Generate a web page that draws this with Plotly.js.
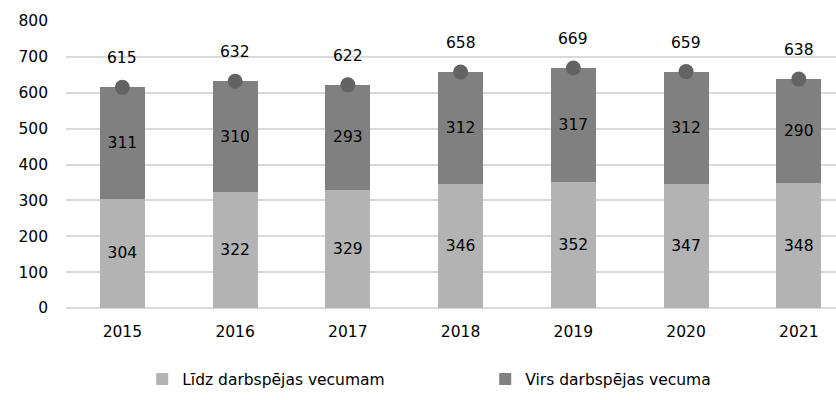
<!DOCTYPE html>
<html>
<head>
<meta charset="utf-8">
<script src="https://cdn.plot.ly/plotly-3.0.1.min.js"></script>
<style>html,body{margin:0;padding:0;background:#fff;}#chart{width:836px;height:400px;}</style>
</head>
<body>
<div id="chart"></div>
<script>
const years = ['2015', '2016', '2017', '2018', '2019', '2020', '2021'];
const belowAge = [304, 322, 329, 346, 352, 347, 348];
const aboveAge = [311, 310, 293, 312, 317, 312, 290];
const totals = [615, 632, 622, 658, 669, 659, 638];
const seriesNames = ['Līdz darbspējas vecumam', 'Virs darbspējas vecuma'];

const FONT = 'DejaVu Sans, Verdana, sans-serif';

const traces = [
  {
    type: 'bar', name: seriesNames[0], x: years, y: belowAge,
    marker: {color: '#b3b3b3'}, width: 0.4,
    text: belowAge.map(String), textposition: 'inside', insidetextanchor: 'middle',
    textangle: 0, constraintext: 'none',
    textfont: {family: FONT, size: 15.5, color: '#000'}, hoverinfo: 'y'
  },
  {
    type: 'bar', name: seriesNames[1], x: years, y: aboveAge,
    marker: {color: '#808080'}, width: 0.4,
    text: aboveAge.map(String), textposition: 'inside', insidetextanchor: 'middle',
    textangle: 0, constraintext: 'none',
    textfont: {family: FONT, size: 15.5, color: '#000'}, hoverinfo: 'y'
  },
  {
    type: 'scatter', mode: 'markers', name: 'Kopā', x: years, y: totals,
    marker: {color: '#636363', size: 15}, showlegend: false, hoverinfo: 'y'
  }
];

const annotations = totals.map((v, i) => ({
  x: i, y: v, xref: 'x', yref: 'y', text: String(v),
  showarrow: false, yshift: 29, xanchor: 'center', yanchor: 'middle',
  font: {family: FONT, size: 15.5, color: '#000'}
}));

const layout = {
  width: 836, height: 400,
  margin: {l: 66, r: 0, t: 21, b: 92},
  barmode: 'stack', bargap: 0.6,
  paper_bgcolor: '#fff', plot_bgcolor: '#fff',
  font: {family: FONT, size: 15, color: '#000'},
  xaxis: {
    type: 'category', range: [-0.5, 6.33], showgrid: false, zeroline: false,
    showline: false, ticks: '', ticklabelstandoff: 12,
    tickfont: {family: FONT, size: 15.5, color: '#000'}
  },
  yaxis: {
    range: [0, 800], dtick: 100, tick0: 0, showgrid: true, gridcolor: '#d9d9d9', gridwidth: 1.5,
    zeroline: true, zerolinecolor: '#d9d9d9', zerolinewidth: 1.5, showline: false, ticks: '',
    ticklabelstandoff: 17, tickfont: {family: FONT, size: 15.5, color: '#000'}
  },
  showlegend: true,
  legend: {
    orientation: 'h', x: 0.099, xanchor: 'left', y: -0.19, yanchor: 'top',
    entrywidth: 298, entrywidthmode: 'pixels', traceorder: 'normal',
    font: {family: FONT, size: 15.5, color: '#000'}
  },
  annotations: annotations
};

Plotly.newPlot('chart', traces, layout, {displayModeBar: false});
</script>
</body>
</html>
